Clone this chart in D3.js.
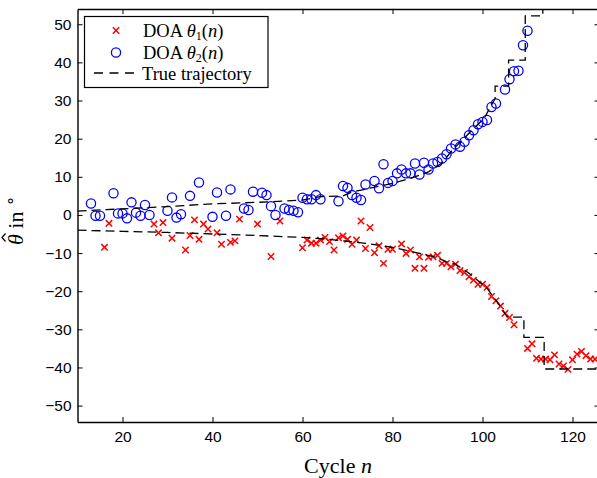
<!DOCTYPE html>
<html lang="en">
  <head>
    <meta charset="UTF-8" />
    <title>DOA tracking</title>
    <script src="https://d3js.org/d3.v7.min.js"></script>
    <style>
      body { margin: 0; background: #fff; }
      .tick text { font-family: "Liberation Sans", Arial, sans-serif; font-size: 15.5px; fill: #000; }
      .tick line { stroke: #000; stroke-width: 1; }
      .domain { stroke: #000; stroke-width: 1.4; }
    </style>
  </head>
  <body>
    <svg width="597" height="478"></svg>
    <script>
      // DOA estimates of source 1 (red crosses)
      var n1 = [16, 17, 27, 28, 29, 31, 34, 35, 36, 37, 38, 39, 41, 42, 44, 45, 46, 50, 53, 55,
        60, 61, 62, 63, 64, 65, 66, 67, 68, 69, 70, 71, 72, 73, 74, 75, 76, 77, 78, 79, 80,
        82, 83, 84, 85, 86, 87, 88, 89, 90, 91, 92, 93, 94, 95, 96, 97, 98, 99, 100,
        101, 102, 103, 104, 105, 106, 107, 110, 111, 112, 113, 114, 115, 116, 117, 118, 119,
        120, 121, 122, 123, 124, 125]
      var theta1 = [-8.5, -2.2, -2.4, -4.7, -2.0, -6.1, -9.2, -5.4, -1.3, -6.4, -2.4, -3.7, -4.7, -7.7, -7.2, -6.8, -1.1, -2.4, -10.9, -1.6,
        -8.6, -6.6, -7.4, -7.4, -6.6, -5.9, -7.0, -9.2, -6.0, -5.5, -6.4, -7.7, -6.6, -1.6, -8.8, -3.3, -9.9, -8.1, -12.7, -9.0, -9.0,
        -7.6, -10.1, -9.2, -14.0, -11.0, -14.0, -11.1, -11.0, -10.6, -12.7, -12.7, -13.6, -12.9, -14.6, -15.1, -16.2, -17.1, -18.2, -18.2,
        -19.0, -21.4, -22.5, -23.9, -25.8, -26.9, -28.8, -35.0, -33.8, -37.6, -37.8, -37.8, -38.0, -36.7, -39.1, -39.6, -40.5,
        -38.0, -36.5, -35.8, -36.9, -37.8, -37.8]

      // DOA estimates of source 2 (blue circles)
      var n2 = [13, 14, 15, 18, 19, 20, 21, 22, 23, 24, 25, 26, 30, 31, 32, 33, 35, 37, 40, 41, 43, 44, 47, 48, 49,
        51, 52, 53, 54, 56, 57, 58, 59, 60, 61, 62, 63, 64, 68, 69, 70, 71, 72, 73, 74, 76, 77, 78, 79, 80,
        81, 82, 83, 84, 85, 86, 87, 88, 89, 90, 91, 92, 93, 94, 95, 96, 97, 98, 99, 100,
        101, 102, 103, 105, 106, 107, 108, 109, 110]
      var theta2 = [3.0, -0.2, -0.2, 5.7, 0.4, 0.4, -0.9, 3.3, 0.6, -0.2, 2.6, 0.0, 1.1, 4.6, -0.7, 0.2, 5.0, 8.5, -0.5, 5.9, -0.2, 6.7, 1.7, 1.3, 6.1,
        5.8, 5.2, 2.3, 0.0, 1.7, 1.3, 1.1, 0.7, 4.5, 4.1, 4.1, 5.2, 4.1, 3.6, 7.6, 7.1, 5.2, 4.5, 3.9, 8.0, 8.9, 7.0, 13.3, 8.4, 8.9,
        10.9, 11.9, 10.9, 10.9, 13.5, 10.6, 13.7, 11.9, 13.5, 13.9, 14.8, 15.9, 17.4, 18.5, 17.9, 19.2, 20.9, 22.2, 23.8, 24.4,
        24.9, 28.3, 29.2, 32.9, 35.6, 37.7, 37.8, 44.5, 48.3]

      // true trajectories (dashed)
      var trueN1 = [10, 20, 30, 40, 50, 60, 65, 70, 75, 80, 85, 90, 92, 94, 97, 101, 104, 105.5, 109.2, 109.2, 113.7, 113.7, 126]
      var trueT1 = [-4.0, -4.3, -4.6, -5.0, -5.4, -5.9, -6.3, -6.9, -7.6, -8.5, -9.8, -11.2, -12.3, -12.9, -15.3, -19.2, -24.0, -26.8, -26.8, -32.1, -32.1, -40.4, -40.4]
      var trueN2 = [10, 20, 30, 40, 50, 60, 64, 69, 71, 75, 80, 84, 88, 91, 93.3, 97, 100.4, 102, 102.8, 102.8, 105.8, 105.8, 109.5, 109.5, 113.4, 113.4]
      var trueT2 = [1.0, 1.6, 2.2, 2.9, 3.3, 3.9, 4.8, 5.0, 6.0, 7.0, 8.3, 9.6, 11.3, 13.6, 17.0, 21.4, 25.4, 28.8, 30.5, 33.8, 33.8, 40.6, 40.6, 52.2, 52.2, 62]

      var xTicks = [20, 40, 60, 80, 100, 120]
      var yTicks = [-50, -40, -30, -20, -10, 0, 10, 20, 30, 40, 50]

      var svg = d3.select('svg')
      var serif = '"Liberation Serif", "Times New Roman", serif'

      var x = d3.scaleLinear().domain([10, 126]).range([77.5, 599.5])
      var y = d3.scaleLinear().domain([-54.3, 54]).range([422, 9])

      svg.append('clipPath').attr('id', 'plot')
        .append('rect')
        .attr('x', x(10)).attr('y', y(54))
        .attr('width', x(126) - x(10)).attr('height', y(-54.3) - y(54))

      var fmt = function(d) { return d < 0 ? '\u2212' + Math.abs(d) : d }

      // axes, ticks pointing inward on all four sides
      svg.append('g')
        .attr('transform', `translate(0,${y(-54.3)})`)
        .call(d3.axisBottom(x).tickValues(xTicks).tickSize(-5).tickSizeOuter(0).tickPadding(9))
      svg.append('g')
        .attr('transform', `translate(0,${y(54)})`)
        .call(d3.axisTop(x).tickValues(xTicks).tickSize(-5).tickSizeOuter(0).tickFormat(''))
      svg.append('g')
        .attr('transform', `translate(${x(10)},0)`)
        .call(d3.axisLeft(y).tickValues(yTicks).tickSize(-5).tickSizeOuter(0).tickPadding(6).tickFormat(fmt))
      svg.append('g')
        .attr('transform', `translate(${x(126)},0)`)
        .call(d3.axisRight(y).tickValues(yTicks).tickSize(-5).tickSizeOuter(0).tickFormat(''))

      var plot = svg.append('g').attr('clip-path', 'url(#plot)')

      var cross = 'M-3.2,-3.2L3.2,3.2M-3.2,3.2L3.2,-3.2'

      // red crosses
      plot.selectAll('.c1')
        .data(d3.zip(n1, theta1))
        .enter()
        .append('path')
        .attr('d', cross)
        .attr('transform', function(d) { return `translate(${x(d[0])},${y(d[1])})` })
        .attr('stroke', '#ff0000')
        .attr('stroke-width', 1.5)
        .attr('fill', 'none')

      // blue circles
      plot.selectAll('.c2')
        .data(d3.zip(n2, theta2))
        .enter()
        .append('circle')
        .attr('cx', function(d) { return x(d[0]) })
        .attr('cy', function(d) { return y(d[1]) })
        .attr('r', 4.6)
        .attr('stroke', '#0000ff')
        .attr('stroke-width', 1.3)
        .attr('fill', 'none')

      // true trajectories
      var line = d3.line()
        .x(function(d) { return x(d[0]) })
        .y(function(d) { return y(d[1]) })

      ;[d3.zip(trueN1, trueT1), d3.zip(trueN2, trueT2)].forEach(function(pts) {
        plot.append('path')
          .attr('d', line(pts))
          .attr('fill', 'none')
          .attr('stroke', '#000')
          .attr('stroke-width', 1.3)
          .attr('stroke-dasharray', '9,5')
      })

      // legend
      var lg = svg.append('g')
      lg.append('rect')
        .attr('x', 84.5).attr('y', 16.5)
        .attr('width', 183.5).attr('height', 71)
        .attr('fill', '#fff')
        .attr('stroke', '#000')
        .attr('stroke-width', 1.2)

      lg.append('path')
        .attr('d', cross)
        .attr('transform', 'translate(116,30.5)')
        .attr('stroke', '#ff0000')
        .attr('stroke-width', 1.5)
      lg.append('circle')
        .attr('cx', 116).attr('cy', 52.5).attr('r', 4.6)
        .attr('fill', 'none')
        .attr('stroke', '#0000ff')
        .attr('stroke-width', 1.3)
      lg.append('line')
        .attr('x1', 94).attr('x2', 138)
        .attr('y1', 73).attr('y2', 73)
        .attr('stroke', '#000')
        .attr('stroke-width', 1.3)
        .attr('stroke-dasharray', '9,6.5')

      function doaLabel(yy, idx) {
        var t = lg.append('text')
          .attr('x', 143).attr('y', yy)
          .attr('font-family', serif)
          .attr('font-size', 18.5)
        t.append('tspan').text('DOA ')
        t.append('tspan').attr('font-style', 'italic').text('\u03b8')
        t.append('tspan').attr('font-size', 12).attr('dy', 3).text(idx)
        t.append('tspan').attr('dy', -3).text('(')
        t.append('tspan').attr('font-style', 'italic').text('n')
        t.append('tspan').text(')')
      }
      doaLabel(37, '1')
      doaLabel(58.5, '2')
      lg.append('text')
        .attr('x', 142).attr('y', 79.5)
        .attr('font-family', serif)
        .attr('font-size', 18.5)
        .text('True trajectory')

      // axis labels
      var xl = svg.append('text')
        .attr('x', 338).attr('y', 473)
        .attr('text-anchor', 'middle')
        .attr('font-family', serif)
        .attr('font-size', 22)
      xl.append('tspan').text('Cycle ')
      xl.append('tspan').attr('font-style', 'italic').text('n')

      var yg = svg.append('g').attr('transform', 'translate(23,219) rotate(-90)')
      var yl = yg.append('text')
        .attr('x', -26)
        .attr('font-family', serif)
        .attr('font-size', 22)
      yl.append('tspan').attr('font-style', 'italic').text('\u03b8')
      yl.append('tspan').text(' in ')
      yl.append('tspan').attr('font-size', 16).attr('dy', -7).text('\u2218')
      // hat over theta
      yg.append('path')
        .attr('d', 'M-22.5,-17.5L-18.5,-21L-14.5,-17.5')
        .attr('fill', 'none')
        .attr('stroke', '#000')
        .attr('stroke-width', 1.2)
    </script>
  </body>
</html>
